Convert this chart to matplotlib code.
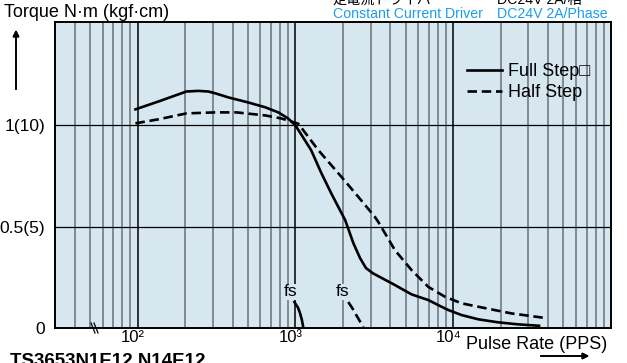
import matplotlib.pyplot as plt
from matplotlib.lines import Line2D
from matplotlib.transforms import offset_copy

# pulse rate (PPS) and torque (N·m)
full_x = [97, 136, 204, 243, 281, 311, 376, 503, 645, 780, 900, 1000, 1100, 1260,
          1462, 1687, 2070, 2330, 2570, 2800, 3100, 3350, 4276, 5447, 6305, 6955,
          8040, 9300, 11290, 14400, 19260, 25780, 35000]
full_y = [1.079, 1.118, 1.167, 1.17, 1.167, 1.158, 1.138, 1.113, 1.089, 1.064, 1.034, 1.0, 0.95, 0.877,
          0.764, 0.665, 0.532, 0.419, 0.345, 0.296, 0.27, 0.256, 0.212, 0.166, 0.149, 0.138,
          0.113, 0.089, 0.064, 0.043, 0.028, 0.018, 0.011]
half_x = [97, 136, 204, 311, 423, 645, 815, 1045, 1400, 1963, 2506, 3193, 3350, 4276,
          5447, 6955, 8880, 11290, 14400, 23390, 39500]
half_y = [1.01, 1.03, 1.059, 1.064, 1.064, 1.049, 1.034, 1.008, 0.877, 0.745, 0.647, 0.548, 0.524, 0.384,
          0.286, 0.203, 0.154, 0.122, 0.105, 0.072, 0.048]
fs_full_x = [986, 1040, 1070, 1100, 1124]
fs_full_y = [0.128, 0.1, 0.074, 0.04, 0.0]
fs_half_x = [2164, 2300, 2430, 2580, 2700]
fs_half_y = [0.128, 0.097, 0.064, 0.03, 0.005]
fs_pos_x = [929, 1982]

y_ticks = [0, 0.5, 1.0]
y_labels = ['0', '0.5(5)', '1(10)']
x_ticks = [100, 1000, 10000]
x_labels = ['10\u00b2', '10\u00b3', '10\u2074']

W, H = 627, 363
plt.rcParams['font.family'] = ['Liberation Sans', 'DejaVu Sans', 'Noto Sans CJK JP']
fig = plt.figure(figsize=(W / 100, H / 100), dpi=100)
ax = fig.add_axes([55 / W, 1 - 328 / H, (611 - 55) / W, (328 - 22) / H])
bg = '#d6e7f0'
ax.set_facecolor(bg)

ax.set_xscale('log')
ax.set_xlim(30, 100000)
ax.set_ylim(0, 1.51)

ax.grid(which='minor', axis='x', color='#68717a', lw=1.1)
ax.grid(which='major', axis='x', color='black', lw=1.1)
for v in [0.5, 1.0]:
    ax.axhline(v, color='black', lw=0.9, zorder=1)
ax.set_axisbelow(True)

dash = (0, (3.6, 1.8))
ax.plot(full_x, full_y, color='black', lw=1.9, label='Full Step\u25a1')
ax.plot(half_x, half_y, color='black', lw=1.9, ls=dash, label='Half Step')
ax.plot(fs_full_x, fs_full_y, color='black', lw=1.9)
ax.plot(fs_half_x, fs_half_y, color='black', lw=1.9, ls=dash)

for fx in fs_pos_x:
    ax.text(fx, 0.178, 'fs', fontsize=12.5, ha='center', va='center',
            bbox=dict(facecolor=bg, edgecolor='none', pad=0.3))

ax.set_xticks(x_ticks)
ax.set_xticklabels(x_labels, fontsize=12)
ax.set_yticks(y_ticks)
ax.set_yticklabels(y_labels, fontsize=12.5)
ax.tick_params(which='both', length=0)
ax.tick_params(axis='y', pad=7)
ax.tick_params(axis='x', pad=1.5)
for lab in ax.get_xticklabels():
    lab.set_transform(offset_copy(lab.get_transform(), fig=fig, x=-5, units='dots'))
for s in ax.spines.values():
    s.set_linewidth(1.4)

ax.legend(loc='upper left', bbox_to_anchor=(467 / W, 1 - 63 / H),
          bbox_transform=fig.transFigure, frameon=False, fontsize=13,
          handlelength=1.94, handletextpad=0.33, labelspacing=0.22,
          borderpad=0, borderaxespad=0)

def ftext(x, y, s, **kw):
    fig.text(x / W, 1 - y / H, s, **kw)

ftext(4, 17, 'Torque N\u00b7m (kgf\u00b7cm)', fontsize=13, va='baseline')
ftext(466, 349, 'Pulse Rate (PPS)', fontsize=13, va='baseline')
ftext(333, 4, '定電流ドライバ', fontsize=10.2, va='baseline', family=['Noto Sans CJK JP'])
ftext(497, 4, 'DC24V 2A/相', fontsize=10.2, va='baseline', family=['Liberation Sans', 'Noto Sans CJK JP'])
ftext(333, 18, 'Constant Current Driver', fontsize=10.2, va='baseline', color='#1a9ee8')
ftext(497, 18, 'DC24V 2A/Phase', fontsize=10.2, va='baseline', color='#1a9ee8')
ftext(10, 366, 'TS3653N1E12 N14E12', fontsize=13.5, fontweight='bold', va='baseline')

# arrows
fig.add_artist(plt.annotate('', xy=(16 / W, 1 - 27 / H), xytext=(16 / W, 1 - 92 / H),
                            xycoords='figure fraction',
                            arrowprops=dict(arrowstyle='-|>', color='black', lw=1.2, mutation_scale=9)))
fig.add_artist(plt.annotate('', xy=(592 / W, 1 - 356 / H), xytext=(538 / W, 1 - 356 / H),
                            xycoords='figure fraction',
                            arrowprops=dict(arrowstyle='-|>', color='black', lw=1.2, mutation_scale=9)))

# axis break mark
for dx in (0, 3):
    fig.add_artist(Line2D([(91 + dx) / W, (95 + dx) / W], [1 - 323 / H, 1 - 333 / H],
                          color='black', lw=0.9))

fig.savefig('out.png', dpi=100)
